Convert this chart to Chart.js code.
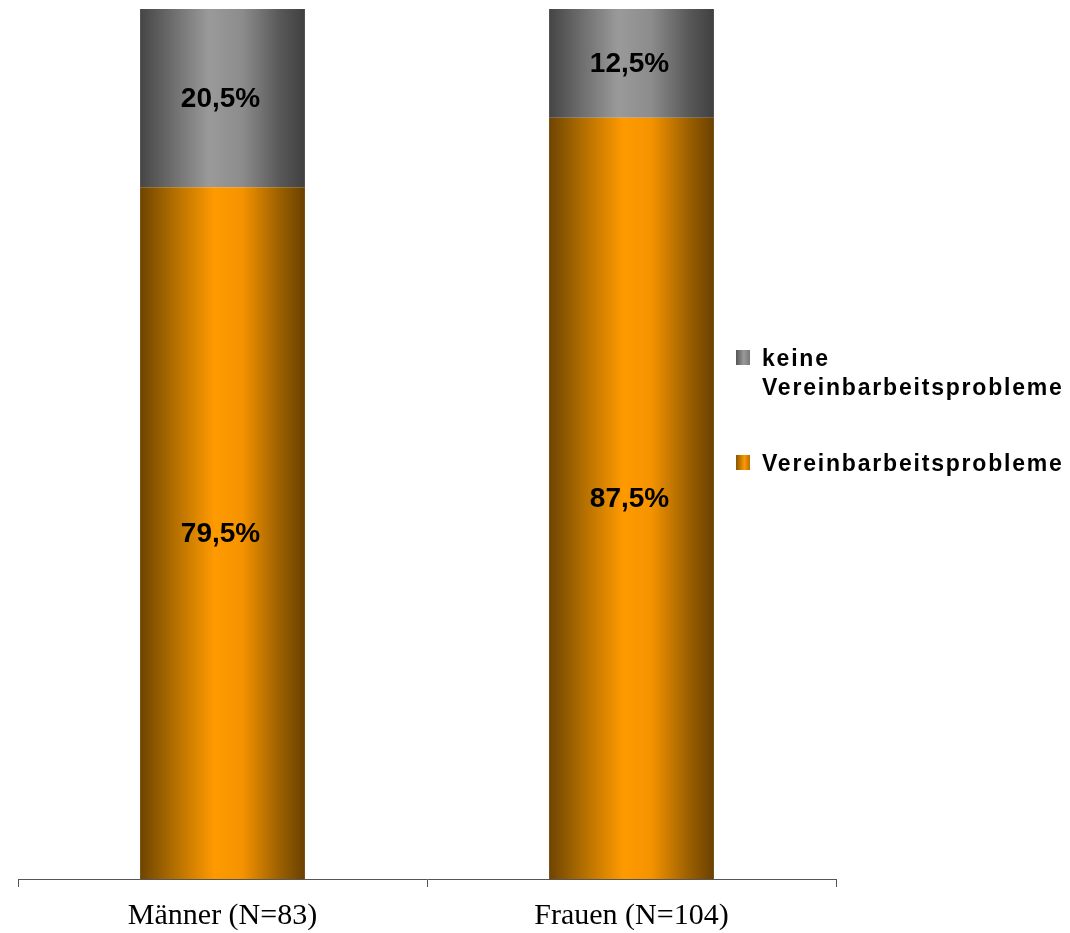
<!DOCTYPE html>
<html>
<head>
<meta charset="utf-8">
<script src="https://cdn.jsdelivr.net/npm/chart.js@4/dist/chart.umd.min.js"></script>
<style>
  html, body { margin: 0; padding: 0; background: #fff; overflow: hidden; }
  #wrap { position: relative; width: 1070px; height: 933px; }
  #legend { position: absolute; left: 736px; top: 344px; font-family: "Liberation Sans", Arial, sans-serif;
            font-weight: bold; font-size: 23px; letter-spacing: 1.8px; color: #000; white-space: nowrap; }
  .item { position: relative; padding-left: 26px; line-height: 29px; }
  .swatch { position: absolute; left: 0; top: 6px; width: 14px; height: 15px; }
</style>
</head>
<body>
<div id="wrap">
  <canvas id="chart" width="1070" height="933"></canvas>
  <div id="legend"></div>
</div>
<script>
// Categories and series (percent)
const categories = ['Männer (N=83)', 'Frauen (N=104)'];
const problemsLabel = 'Vereinbarbeitsprobleme';
const noProblemsLabel = 'keine Vereinbarbeitsprobleme';
const problemsValues = [79.5, 87.5];
const noProblemsValues = [20.5, 12.5];

const BAR_PCT = 0.403;
const orangeStops = [[0, '#6e4400'], [0.2, '#b06d00'], [0.45, '#ff9a00'], [0.62, '#f59300'], [0.85, '#9a5f00'], [1, '#6a4100']];
const grayStops = [[0, '#454545'], [0.2, '#6e6e6e'], [0.42, '#9a9a9a'], [0.62, '#8c8c8c'], [0.85, '#585858'], [1, '#404040']];

function barGradient(stops) {
    return function (context) {
        const chart = context.chart;
        const xs = chart.scales && chart.scales.x;
        if (!xs || context.dataIndex === undefined) return stops[2][1];
        const cx = xs.getPixelForValue(context.dataIndex);
        const w = (xs.width / categories.length) * BAR_PCT;
        if (!isFinite(cx) || !isFinite(w) || w <= 0) return stops[2][1];
        const g = chart.ctx.createLinearGradient(cx - w / 2, 0, cx + w / 2, 0);
        stops.forEach(s => g.addColorStop(s[0], s[1]));
        return g;
    };
}

// draw the percentage in the middle of each segment
const valueLabels = {
    id: 'valueLabels',
    afterDatasetsDraw(chart) {
        const { ctx } = chart;
        ctx.save();
        ctx.fillStyle = '#000';
        ctx.font = 'bold 28px "Liberation Sans", Arial, sans-serif';
        ctx.textAlign = 'center';
        ctx.textBaseline = 'middle';
        chart.data.datasets.forEach((ds, di) => {
            const meta = chart.getDatasetMeta(di);
            meta.data.forEach((bar, i) => {
                const p = bar.getProps(['x', 'y', 'base'], true);
                const txt = ds.data[i].toFixed(1).replace('.', ',') + '%';
                ctx.fillText(txt, p.x - 2, (p.y + p.base) / 2 + 1);
            });
        });
        ctx.restore();
    }
};

// legend: gray item first, with wrapped label
const legendEl = document.getElementById('legend');
legendEl.innerHTML = `
  <div class="item"><span class="swatch" style="background:linear-gradient(90deg,#555,#999 55%,#777)"></span>keine<br>Vereinbarbeitsprobleme</div>
  <div class="item" style="margin-top:47px"><span class="swatch" style="background:linear-gradient(90deg,#8a5500,#ff9900 60%,#b86e00)"></span>Vereinbarbeitsprobleme</div>`;

new Chart(document.getElementById('chart'), {
    type: 'bar',
    data: {
        labels: categories,
        datasets: [
            { label: problemsLabel, data: problemsValues, backgroundColor: barGradient(orangeStops) },
            { label: noProblemsLabel, data: noProblemsValues, backgroundColor: barGradient(grayStops) }
        ]
    },
    options: {
        responsive: false,
        animation: false,
        layout: { padding: { left: 18, top: 9, right: 234, bottom: -12 } },
        datasets: { bar: { categoryPercentage: 1, barPercentage: BAR_PCT, borderWidth: 0 } },
        scales: {
            x: {
                stacked: true,
                border: { display: true, color: '#555', width: 1 },
                grid: { display: true, drawOnChartArea: false, offset: true, tickLength: 8, color: '#555' },
                ticks: {
                    color: '#000',
                    padding: 11,
                    font: { family: '"Liberation Serif", "Times New Roman", serif', size: 30 }
                }
            },
            y: { stacked: true, display: false, min: 0, max: 100 }
        },
        plugins: { legend: { display: false }, tooltip: { enabled: false } }
    },
    plugins: [valueLabels]
});
</script>
</body>
</html>
